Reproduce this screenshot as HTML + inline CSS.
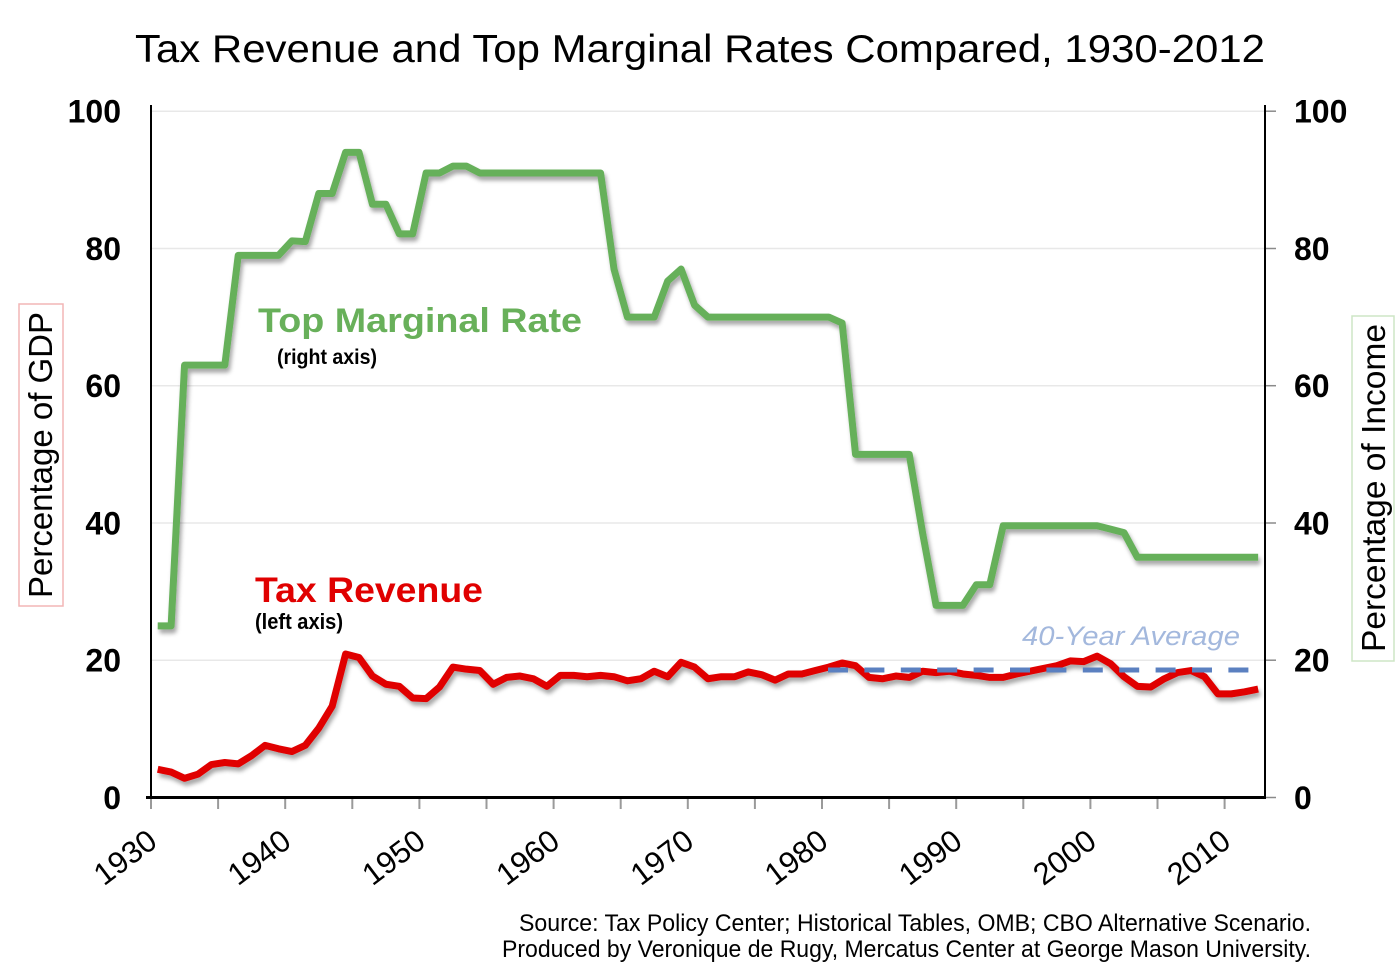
<!DOCTYPE html>
<html>
<head>
<meta charset="utf-8">
<style>
  html, body { margin:0; padding:0; background:#fff; }
  svg { display:block; }
  text { font-family: "Liberation Sans", Arial, sans-serif; }
</style>
</head>
<body>
<svg width="1399" height="969" viewBox="0 0 1399 969" xmlns="http://www.w3.org/2000/svg">
  <defs>
    <filter id="sh" x="-5%" y="-5%" width="110%" height="115%">
      <feDropShadow dx="2" dy="4" stdDeviation="2.2" flood-color="#000" flood-opacity="0.35"/>
    </filter>
  </defs>
  <rect width="1399" height="969" fill="#fff"/>

  <!-- Title -->
  <text x="135" y="62" font-size="39" fill="#000" textLength="1130" lengthAdjust="spacingAndGlyphs">Tax Revenue and Top Marginal Rates Compared, 1930-2012</text>

  <!-- gridlines -->
  <g stroke="#e8e8e8" stroke-width="1.5">
    <line x1="151" y1="111.2" x2="1265" y2="111.2"/>
    <line x1="151" y1="248.5" x2="1265" y2="248.5"/>
    <line x1="151" y1="385.7" x2="1265" y2="385.7"/>
    <line x1="151" y1="523" x2="1265" y2="523"/>
    <line x1="151" y1="660.2" x2="1265" y2="660.2"/>
  </g>

  <!-- right axis ticks -->
  <g stroke="#8a8a8a" stroke-width="1.5">
    <line x1="1265" y1="111.2" x2="1276" y2="111.2"/>
    <line x1="1265" y1="248.5" x2="1276" y2="248.5"/>
    <line x1="1265" y1="385.7" x2="1276" y2="385.7"/>
    <line x1="1265" y1="523" x2="1276" y2="523"/>
    <line x1="1265" y1="660.2" x2="1276" y2="660.2"/>
    <line x1="1265" y1="797.5" x2="1276" y2="797.5"/>
  </g>

  <!-- x axis ticks -->
  <g stroke="#9a9a9a" stroke-width="2">
    <line x1="151" y1="798" x2="151" y2="809"/>
    <line x1="218.1" y1="798" x2="218.1" y2="809"/>
    <line x1="285.2" y1="798" x2="285.2" y2="809"/>
    <line x1="352.3" y1="798" x2="352.3" y2="809"/>
    <line x1="419.4" y1="798" x2="419.4" y2="809"/>
    <line x1="486.5" y1="798" x2="486.5" y2="809"/>
    <line x1="553.6" y1="798" x2="553.6" y2="809"/>
    <line x1="620.7" y1="798" x2="620.7" y2="809"/>
    <line x1="687.8" y1="798" x2="687.8" y2="809"/>
    <line x1="754.9" y1="798" x2="754.9" y2="809"/>
    <line x1="822" y1="798" x2="822" y2="809"/>
    <line x1="889.1" y1="798" x2="889.1" y2="809"/>
    <line x1="956.2" y1="798" x2="956.2" y2="809"/>
    <line x1="1023.3" y1="798" x2="1023.3" y2="809"/>
    <line x1="1090.4" y1="798" x2="1090.4" y2="809"/>
    <line x1="1157.5" y1="798" x2="1157.5" y2="809"/>
    <line x1="1224.6" y1="798" x2="1224.6" y2="809"/>
  </g>

  <!-- axes -->
  <line x1="151" y1="105" x2="151" y2="798" stroke="#000" stroke-width="2"/>
  <line x1="1265" y1="105" x2="1265" y2="799" stroke="#000" stroke-width="2"/>
  <line x1="146" y1="797.5" x2="1266" y2="797.5" stroke="#000" stroke-width="3"/>

  <!-- Top marginal rate (green) -->
  <g filter="url(#sh)">
    <g transform="translate(157.71 797.5) scale(13.42 -6.863)">
      <polyline fill="none" stroke="#66b05a" stroke-width="7" stroke-linejoin="round" stroke-linecap="butt" vector-effect="non-scaling-stroke"
        points="0,25 1,25 2,63 5,63 6,79 9,79 10,81.1 11,81 12,88 13,88 14,94 15,94 16,86.45 17,86.45 18,82.13 19,82.13 20,91 21,91 22,92 23,92 24,91 33,91 34,77 35,70 37,70 38,75.25 39,77 40,71.75 41,70 50,70 51,69.13 52,50 56,50 57,38.5 58,28 60,28 61,31 62,31 63,39.6 70,39.6 71,39.1 72,38.6 73,35 82,35"/>
    </g>
  </g>

  <!-- Tax revenue (red) -->
  <g filter="url(#sh)">
    <g transform="translate(157.71 797.5) scale(13.42 -6.863)">
      <polyline fill="none" stroke="#e00000" stroke-width="7" stroke-linejoin="round" stroke-linecap="butt" vector-effect="non-scaling-stroke"
        points="0,4.1 1,3.7 2,2.8 3,3.4 4,4.8 5,5.1 6,4.9 7,6.1 8,7.6 9,7.1 10,6.7 11,7.6 12,10.1 13,13.3 14,20.9 15,20.4 16,17.7 17,16.5 18,16.2 19,14.5 20,14.4 21,16.1 22,19.0 23,18.7 24,18.5 25,16.5 26,17.5 27,17.7 28,17.3 29,16.2 30,17.8 31,17.8 32,17.6 33,17.8 34,17.6 35,17.0 36,17.3 37,18.4 38,17.6 39,19.7 40,19.0 41,17.3 42,17.6 43,17.6 44,18.3 45,17.9 46,17.1 47,18.0 48,18.0 49,18.5 50,19.0 51,19.6 52,19.2 53,17.5 54,17.3 55,17.7 56,17.5 57,18.4 58,18.2 59,18.4 60,18.0 61,17.8 62,17.5 63,17.5 64,18.0 65,18.4 66,18.8 67,19.2 68,19.9 69,19.8 70,20.6 71,19.5 72,17.6 73,16.2 74,16.1 75,17.3 76,18.2 77,18.5 78,17.6 79,15.1 80,15.1 81,15.4 82,15.8"/>
    </g>
  </g>

  <!-- 40-year average dashed -->
  <line x1="828" y1="670" x2="1249.5" y2="670" stroke="#5b80c0" stroke-width="5" stroke-dasharray="20 16.4"/>
  <text x="1022" y="645" font-size="27" font-style="italic" fill="#a3b8dd" textLength="218" lengthAdjust="spacingAndGlyphs">40-Year Average</text>

  <!-- series labels -->
  <text x="258" y="332" font-size="34" font-weight="bold" fill="#68b05a" textLength="324" lengthAdjust="spacingAndGlyphs">Top Marginal Rate</text>
  <text x="277" y="364" font-size="21" font-weight="bold" fill="#000" textLength="100" lengthAdjust="spacingAndGlyphs">(right axis)</text>
  <text x="255" y="602" font-size="35" font-weight="bold" fill="#e00000" textLength="228" lengthAdjust="spacingAndGlyphs">Tax Revenue</text>
  <text x="255" y="629" font-size="22" font-weight="bold" fill="#000" textLength="88" lengthAdjust="spacingAndGlyphs">(left axis)</text>

  <!-- left axis labels -->
  <g font-size="32" font-weight="bold" fill="#000" text-anchor="end">
    <text x="121" y="122.5">100</text>
    <text x="121" y="259.8">80</text>
    <text x="121" y="397">60</text>
    <text x="121" y="534.3">40</text>
    <text x="121" y="671.5">20</text>
    <text x="121" y="808.8">0</text>
  </g>
  <!-- right axis labels -->
  <g font-size="32" font-weight="bold" fill="#000">
    <text x="1294" y="122.5">100</text>
    <text x="1294" y="259.8">80</text>
    <text x="1294" y="397">60</text>
    <text x="1294" y="534.3">40</text>
    <text x="1294" y="671.5">20</text>
    <text x="1294" y="808.8">0</text>
  </g>

  <!-- x labels -->
  <g font-size="31" fill="#000" text-anchor="end">
    <text transform="translate(159 845) rotate(-37)">1930</text>
    <text transform="translate(293 845) rotate(-37)">1940</text>
    <text transform="translate(427.4 845) rotate(-37)">1950</text>
    <text transform="translate(561.6 845) rotate(-37)">1960</text>
    <text transform="translate(695.8 845) rotate(-37)">1970</text>
    <text transform="translate(830 845) rotate(-37)">1980</text>
    <text transform="translate(964.2 845) rotate(-37)">1990</text>
    <text transform="translate(1098.4 845) rotate(-37)">2000</text>
    <text transform="translate(1232.6 845) rotate(-37)">2010</text>
  </g>

  <!-- axis titles -->
  <rect x="19" y="304" width="44" height="302" fill="none" stroke="#f2b5b5" stroke-width="1.5"/>
  <text transform="translate(52 455) rotate(-90)" font-size="33" fill="#000" text-anchor="middle" textLength="286" lengthAdjust="spacingAndGlyphs">Percentage of GDP</text>

  <rect x="1352" y="316" width="42" height="345" fill="none" stroke="#cde6c5" stroke-width="1.5"/>
  <text transform="translate(1385 488) rotate(-90)" font-size="33" fill="#000" text-anchor="middle" textLength="328" lengthAdjust="spacingAndGlyphs">Percentage of Income</text>

  <!-- source -->
  <g font-size="24" fill="#000" text-anchor="end">
    <text x="1311" y="931" textLength="792" lengthAdjust="spacingAndGlyphs">Source: Tax Policy Center; Historical Tables, OMB; CBO Alternative Scenario.</text>
    <text x="1311" y="957" textLength="809" lengthAdjust="spacingAndGlyphs">Produced by Veronique de Rugy, Mercatus Center at George Mason University.</text>
  </g>
</svg>
</body>
</html>
